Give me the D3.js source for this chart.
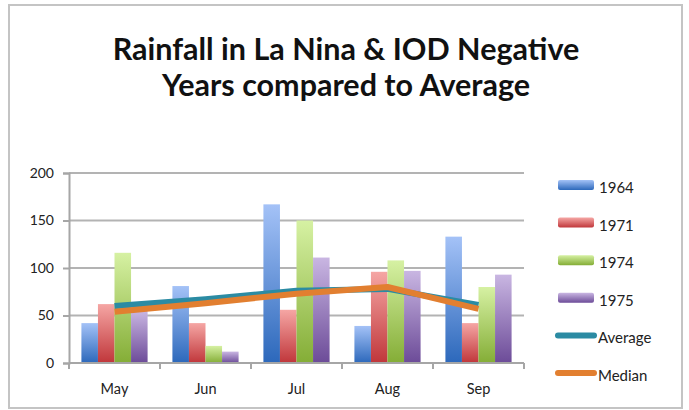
<!DOCTYPE html>
<html>
<head>
<meta charset="utf-8">
<script src="https://cdn.jsdelivr.net/npm/d3@7"></script>
<style>
  body { margin: 0; background: #fff; }
  text { font-family: Lato, "Open Sans", sans-serif; }
</style>
</head>
<body>
<script>
// chart data
var months = ["May", "Jun", "Jul", "Aug", "Sep"];
var years = ["1964", "1971", "1974", "1975"];
var rain1964 = [42, 81, 167, 39, 133];
var rain1971 = [62, 42, 56, 96, 42];
var rain1974 = [116, 18, 150, 108, 80];
var rain1975 = [55, 12, 111, 97, 93];
var average = [60, 67, 76, 78, 61];
var median = [54, 63, 73, 80, 57];
var yTicks = [0, 50, 100, 150, 200];

var barSeries = [rain1964, rain1971, rain1974, rain1975];
var barColors = [
  {top: "#a4c2f7", bottom: "#2c68bb"},
  {top: "#f5a6a4", bottom: "#c0363a"},
  {top: "#d6f1a3", bottom: "#84ad36"},
  {top: "#c9b6e2", bottom: "#6c4b98"}
];
var lineColors = {Average: "#2b8ba3", Median: "#e27f30"};

var svg = d3.select("body").append("svg")
    .attr("width", 689)
    .attr("height", 410);

// outer border
svg.append("rect")
    .attr("x", 9).attr("y", 5)
    .attr("width", 673).attr("height", 403)
    .attr("fill", "#fff")
    .attr("stroke", "#c4c4c4")
    .attr("stroke-width", 2);

// title
var title = svg.append("text")
    .attr("text-anchor", "middle")
    .attr("font-weight", "bold")
    .attr("font-size", 30.5)
    .attr("fill", "#111");
title.append("tspan").attr("x", 346).attr("y", 60).text("Rainfall in La Nina & IOD Negative");
title.append("tspan").attr("x", 346).attr("y", 96).text("Years compared to Average");

// scales
var x = d3.scaleBand().domain(months).range([69, 524]);
var xInner = d3.scaleBand().domain(years).range([0, x.bandwidth()]).paddingOuter(0.75);
var y = d3.scaleLinear().domain([0, 200]).range([363, 173]);

// gradients for bars
var defs = svg.append("defs");
barColors.forEach(function(c, i) {
  var g = defs.append("linearGradient")
      .attr("id", "grad" + i)
      .attr("x1", 0).attr("y1", 0).attr("x2", 0).attr("y2", 1);
  g.append("stop").attr("offset", "0%").attr("stop-color", c.top);
  g.append("stop").attr("offset", "100%").attr("stop-color", c.bottom);
});

// gridlines
svg.append("g")
    .selectAll("line")
    .data(yTicks.slice(1))
    .join("line")
    .attr("x1", 69).attr("x2", 524)
    .attr("y1", function(d) { return y(d); })
    .attr("y2", function(d) { return y(d); })
    .attr("stroke", "#b3b3b3")
    .attr("stroke-width", 2);

// bars
for (let i = 0; i < years.length; i++) {
  svg.append("g")
      .selectAll("rect")
      .data(barSeries[i])
      .join("rect")
      .attr("x", function(d, j) { return x(months[j]) + xInner(years[i]); })
      .attr("y", function(d) { return y(d); })
      .attr("width", xInner.bandwidth())
      .attr("height", function(d) { return y(0) - y(d); })
      .attr("fill", "url(#grad" + i + ")");
}

// Y axis
var yAxis = svg.append("g")
    .attr("transform", "translate(69,0)")
    .call(d3.axisLeft(y).tickValues(yTicks).tickSize(6).tickPadding(9));
yAxis.select(".domain").attr("stroke", "#a6a6a6").attr("stroke-width", 2);
yAxis.selectAll(".tick line").attr("stroke", "#a6a6a6").attr("stroke-width", 2);
yAxis.selectAll("text").attr("font-size", 14).attr("fill", "#222")
    .style("font-family", "Lato, sans-serif");

// X axis with ticks at category boundaries
var xAxis = svg.append("g")
    .attr("transform", "translate(0,363)");
xAxis.append("line")
    .attr("x1", 69).attr("x2", 524)
    .attr("stroke", "#a6a6a6").attr("stroke-width", 2);
xAxis.selectAll("line.tk")
    .data(months.concat(["end"]))
    .join("line")
    .attr("class", "tk")
    .attr("x1", function(d, j) { return j < months.length ? x(d) : x(months[months.length - 1]) + x.bandwidth(); })
    .attr("x2", function(d, j) { return j < months.length ? x(d) : x(months[months.length - 1]) + x.bandwidth(); })
    .attr("y1", 0).attr("y2", 6)
    .attr("stroke", "#a6a6a6").attr("stroke-width", 2);
xAxis.selectAll("text")
    .data(months)
    .join("text")
    .attr("x", function(d) { return x(d) + x.bandwidth() / 2; })
    .attr("y", 31)
    .attr("text-anchor", "middle")
    .attr("font-size", 14.5)
    .attr("fill", "#222")
    .text(function(d) { return d; });

// average and median lines
var line = d3.line()
    .x(function(d, j) { return x(months[j]) + x.bandwidth() / 2; })
    .y(function(d) { return y(d); });

svg.append("path")
    .datum(average)
    .attr("fill", "none")
    .attr("stroke", lineColors.Average)
    .attr("stroke-width", 6)
    .attr("stroke-linejoin", "round")
    .attr("d", line);

svg.append("path")
    .datum(median)
    .attr("fill", "none")
    .attr("stroke", lineColors.Median)
    .attr("stroke-width", 6)
    .attr("stroke-linejoin", "round")
    .attr("d", line);

// legend
var legendItems = years.concat(["Average", "Median"]);
var legend = svg.append("g");
legendItems.forEach(function(name, i) {
  var cy = 185 + i * 37.6;
  if (i < years.length) {
    legend.append("rect")
        .attr("x", 558).attr("y", cy - 5)
        .attr("width", 36).attr("height", 10)
        .attr("rx", 2)
        .attr("fill", "url(#grad" + i + ")");
    legend.append("text")
        .attr("x", 599).attr("y", cy + 8)
        .attr("font-size", 15).attr("fill", "#222")
        .text(name);
  } else {
    legend.append("line")
        .attr("x1", 558).attr("x2", 594)
        .attr("y1", cy).attr("y2", cy)
        .attr("stroke", lineColors[name])
        .attr("stroke-width", 6)
        .attr("stroke-linecap", "round");
    legend.append("text")
        .attr("x", 598).attr("y", cy + 8)
        .attr("font-size", 15).attr("fill", "#222")
        .text(name);
  }
});
</script>
</body>
</html>
